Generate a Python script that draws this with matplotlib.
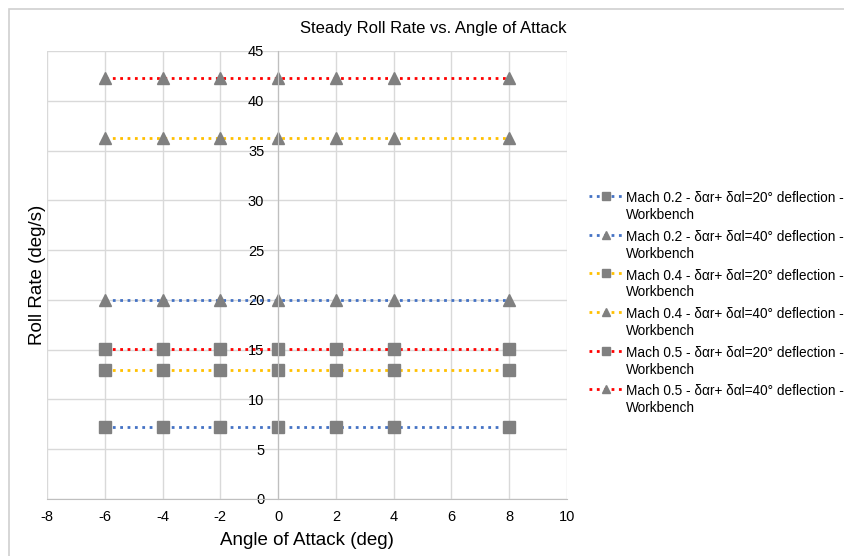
import matplotlib.pyplot as plt
from matplotlib.patches import Rectangle

plt.rcParams['font.family'] = ['Liberation Sans', 'DejaVu Sans']
plt.rcParams['axes.unicode_minus'] = False

# angle of attack (deg)
aoa = [-6, -4, -2, 0, 2, 4, 8]

# steady roll rate (deg/s) per case
m02_20 = [7.2, 7.2, 7.2, 7.2, 7.2, 7.2, 7.2]
m02_40 = [20.0, 20.0, 20.0, 20.0, 20.0, 20.0, 20.0]
m04_20 = [13.0, 13.0, 13.0, 13.0, 13.0, 13.0, 13.0]
m04_40 = [36.3, 36.3, 36.3, 36.3, 36.3, 36.3, 36.3]
m05_20 = [15.1, 15.1, 15.1, 15.1, 15.1, 15.1, 15.1]
m05_40 = [42.3, 42.3, 42.3, 42.3, 42.3, 42.3, 42.3]

labels = [
    "Mach 0.2 - δαr+ δαl=20° deflection -\nWorkbench",
    "Mach 0.2 - δαr+ δαl=40° deflection -\nWorkbench",
    "Mach 0.4 - δαr+ δαl=20° deflection -\nWorkbench",
    "Mach 0.4 - δαr+ δαl=40° deflection -\nWorkbench",
    "Mach 0.5 - δαr+ δαl=20° deflection -\nWorkbench",
    "Mach 0.5 - δαr+ δαl=40° deflection -\nWorkbench",
]
series = [m02_20, m02_40, m04_20, m04_40, m05_20, m05_40]
colors = ['#4472C4', '#4472C4', '#FFC000', '#FFC000', '#FF0000', '#FF0000']
markers = ['s', '^', 's', '^', 's', '^']

fig = plt.figure(figsize=(8.44, 5.56), dpi=100)
# chart area border
fig.patches.append(Rectangle((9 / 844, -0.1), 1.0, 1 - 9 / 556 + 0.1,
                             transform=fig.transFigure, fill=False,
                             edgecolor='#d0d0d0', linewidth=1.2))

ax = fig.add_axes([47 / 844, 1 - 499 / 556, 520 / 844, 448 / 556])

for y, lab, c, m in zip(series, labels, colors, markers):
    ax.plot(aoa, y, linestyle=':', linewidth=2, color=c, marker=m,
            markersize=8.5, markerfacecolor='#808080',
            markeredgecolor='#808080', label=lab)

ax.set_xlim(-8, 10)
ax.set_ylim(0, 45)
ax.set_xticks(range(-8, 11, 2))
ax.set_yticks(range(0, 46, 5))
ax.grid(True, color='#d9d9d9', linewidth=1)
ax.set_axisbelow(True)

ax.spines['left'].set_position(('data', 0))
ax.spines['left'].set_color('#bfbfbf')
ax.spines['bottom'].set_color('#bfbfbf')
ax.spines['top'].set_visible(False)
ax.spines['right'].set_visible(False)
ax.tick_params(length=0, labelsize=10.5, colors='black')
ax.tick_params(axis='x', pad=8)
ax.tick_params(axis='y', pad=10)

ax.set_xlabel('Angle of Attack (deg)', fontsize=13.5, labelpad=6)
fig.text(37 / 844, 1 - 275 / 556, 'Roll Rate (deg/s)', rotation=90,
         fontsize=13.5, ha='center', va='center')
fig.text(433 / 844, 1 - 28 / 556, 'Steady Roll Rate vs. Angle of Attack',
         fontsize=12, ha='center', va='center')

leg = fig.legend(loc='upper left', bbox_to_anchor=(577 / 844, 1 - 179 / 556),
                 frameon=False, fontsize=9.8, handlelength=2.4,
                 handletextpad=0.3, labelspacing=0.58, markerscale=0.7)
for t in leg.get_texts():
    t.set_linespacing(1.25)
# put each legend symbol level with the first text line
for col in leg._legend_handle_box.get_children():
    for item in col.get_children():
        item.align = 'top'

fig.savefig('out.png', dpi=100)
